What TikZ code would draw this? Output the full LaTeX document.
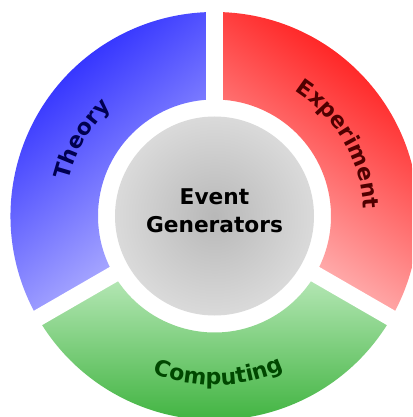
\documentclass[tikz,border=0pt]{standalone}
\usepackage{fontspec}
\setmainfont{DejaVu Sans}
\usetikzlibrary{decorations.text}
\definecolor{bdark}{HTML}{1A1AFF}
\definecolor{blight}{HTML}{C4C4FF}
\definecolor{rdark}{HTML}{FF1414}
\definecolor{rlight}{HTML}{FFCCCC}
\definecolor{gdark}{HTML}{2AAA2A}
\definecolor{glight}{HTML}{B8E8B8}
\definecolor{cinner}{HTML}{B8B8B8}
\definecolor{couter}{HTML}{DADADA}
\definecolor{ttheory}{HTML}{000050}
\definecolor{texp}{HTML}{500000}
\definecolor{tcomp}{HTML}{004800}
\newcommand{\mylabelfont}{\fontsize{22}{26}\selectfont\bfseries}
\tikzset{
  gapline/.style={draw=white, line width=16.5pt},
  ringlabel/.style={decorate, decoration={text along path, text align=center, text={#1}}}
}
\begin{document}
\begin{tikzpicture}
\useasboundingbox (-214.5pt,-201pt) rectangle (197.5pt,216pt);
\fill[white] (-214.5pt,-201pt) rectangle (197.5pt,216pt);
\clip (-214.5pt,-201pt) rectangle (197.5pt,216pt);
% Theory sector
\shade[top color=bdark, bottom color=blight, shading angle=40]
  (90:116.5pt) arc[start angle=90, end angle=210, radius=116.5pt]
  -- (210:204pt) arc[start angle=210, end angle=90, radius=204pt] -- cycle;
% Experiment sector
\shade[top color=rdark, bottom color=rlight, shading angle=-35]
  (-30:116.5pt) arc[start angle=-30, end angle=90, radius=116.5pt]
  -- (90:204pt) arc[start angle=90, end angle=-30, radius=204pt] -- cycle;
% Computing sector
\shade[top color=glight, bottom color=gdark]
  (210:116.5pt) arc[start angle=210, end angle=330, radius=116.5pt]
  -- (330:204pt) arc[start angle=330, end angle=210, radius=204pt] -- cycle;
% gaps
\draw[gapline] (90:105pt) -- (90:215pt);
\draw[gapline] (210:105pt) -- (210:215pt);
\draw[gapline] (330:105pt) -- (330:215pt);
% centre
\shade[inner color=cinner, outer color=couter] (0,0) circle (99.5pt);
\node[align=center, inner sep=0pt, font=\fontsize{21.7}{27.6}\selectfont\bfseries] (center) at (0pt,5.3pt) {Event\\Generators};
% labels
\path[ringlabel={|\mylabelfont|Theory}, decoration={text color=ttheory}]
  (200:150pt) arc[start angle=200, end angle=100, radius=150pt];
\path[ringlabel={|\mylabelfont|Experiment}, decoration={text color=texp}]
  (80:149pt) arc[start angle=80, end angle=-20, radius=149pt];
\path[ringlabel={|\mylabelfont|Computing}, decoration={text color=tcomp}]
  (221.5:169pt) arc[start angle=221.5, end angle=321.5, radius=169pt];
\end{tikzpicture}
\end{document}
